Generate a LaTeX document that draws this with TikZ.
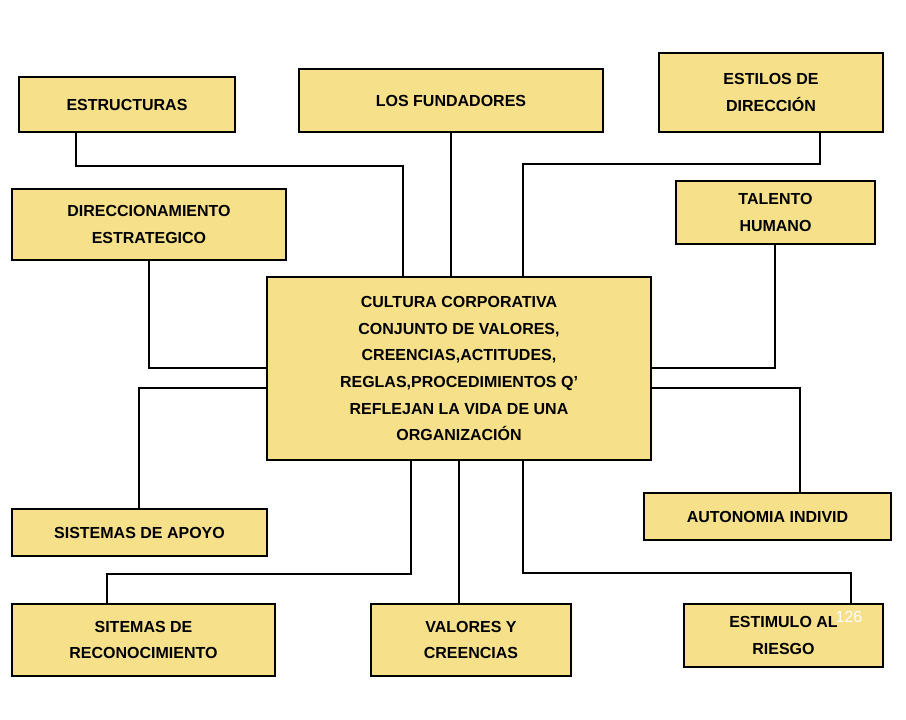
\documentclass[tikz,border=0pt]{standalone}
\usepackage{fontspec}
\setmainfont{Liberation Sans}
\usetikzlibrary{calc}
\definecolor{boxyellow}{HTML}{F7E08A}
\tikzset{
every picture/.style={
line width=0.8pt
}}
\tikzset{
box/.style={draw, fill=boxyellow, align=center, font=\bfseries\large, inner sep=0pt},
}
\newcommand{\boxat}[6]{% name, left, top, right, bottom, text
  \node[box, minimum width={(#4-#2)*0.75pt}, minimum height={(#5-#3)*0.75pt}] (#1) at ({(#2+#4)/2},{(#3+#5)/2}) {#6};}

\begin{document}
\begin{tikzpicture}[x=0.75pt,y=-0.75pt]
\useasboundingbox (0,0) rectangle (906,720);
% boxes
\boxat{estr}{19}{77}{235}{132}{ESTRUCTURAS}
\boxat{fund}{299}{69}{603}{132}{LOS FUNDADORES}
\boxat{estilos}{659}{53}{883}{132}{ESTILOS DE\\[6pt] DIRECCIÓN}
\boxat{direc}{12}{189}{286}{260}{DIRECCIONAMIENTO\\[6pt] ESTRATEGICO}
\boxat{talento}{676}{181}{875}{244}{TALENTO\\[6pt] HUMANO}
\boxat{cultura}{267}{277}{651}{460}{CULTURA CORPORATIVA\\[6pt] CONJUNTO DE VALORES,\\[6pt] CREENCIAS,ACTITUDES,\\[6pt] REGLAS,PROCEDIMIENTOS Q'\\[6pt] REFLEJAN LA VIDA DE UNA\\[6pt] ORGANIZACIÓN}
\boxat{apoyo}{12}{509}{267}{556}{SISTEMAS DE APOYO}
\boxat{autonomia}{644}{493}{891}{540}{AUTONOMIA INDIVID}
\boxat{recon}{12}{604}{275}{676}{SITEMAS DE\\[6pt] RECONOCIMIENTO}
\boxat{valores}{371}{604}{571}{676}{VALORES Y\\[6pt] CREENCIAS}
\boxat{riesgo}{684}{604}{883}{667}{ESTIMULO AL\\[6pt] RIESGO}
\node[text=white, font=\large] (num) at (849,617) {126};
% connectors
\draw (estr.south -| 76,0) |- (403,166) -- (cultura.north -| 403,0);
\draw (fund.south -| 451,0) -- (cultura.north -| 451,0);
\draw (estilos.south -| 820,0) |- (523,164) -- (cultura.north -| 523,0);
\draw (direc.south -| 149,0) |- (cultura.west |- 0,368);
\draw (talento.south -| 775,0) |- (cultura.east |- 0,368);
\draw (apoyo.north -| 139,0) |- (cultura.west |- 0,388);
\draw (autonomia.north -| 800,0) |- (cultura.east |- 0,388);
\draw (recon.north -| 107,0) |- (411,574) -- (cultura.south -| 411,0);
\draw (valores.north -| 459,0) -- (cultura.south -| 459,0);
\draw (riesgo.north -| 851,0) |- (523,573) -- (cultura.south -| 523,0);
\end{tikzpicture}
\end{document}
